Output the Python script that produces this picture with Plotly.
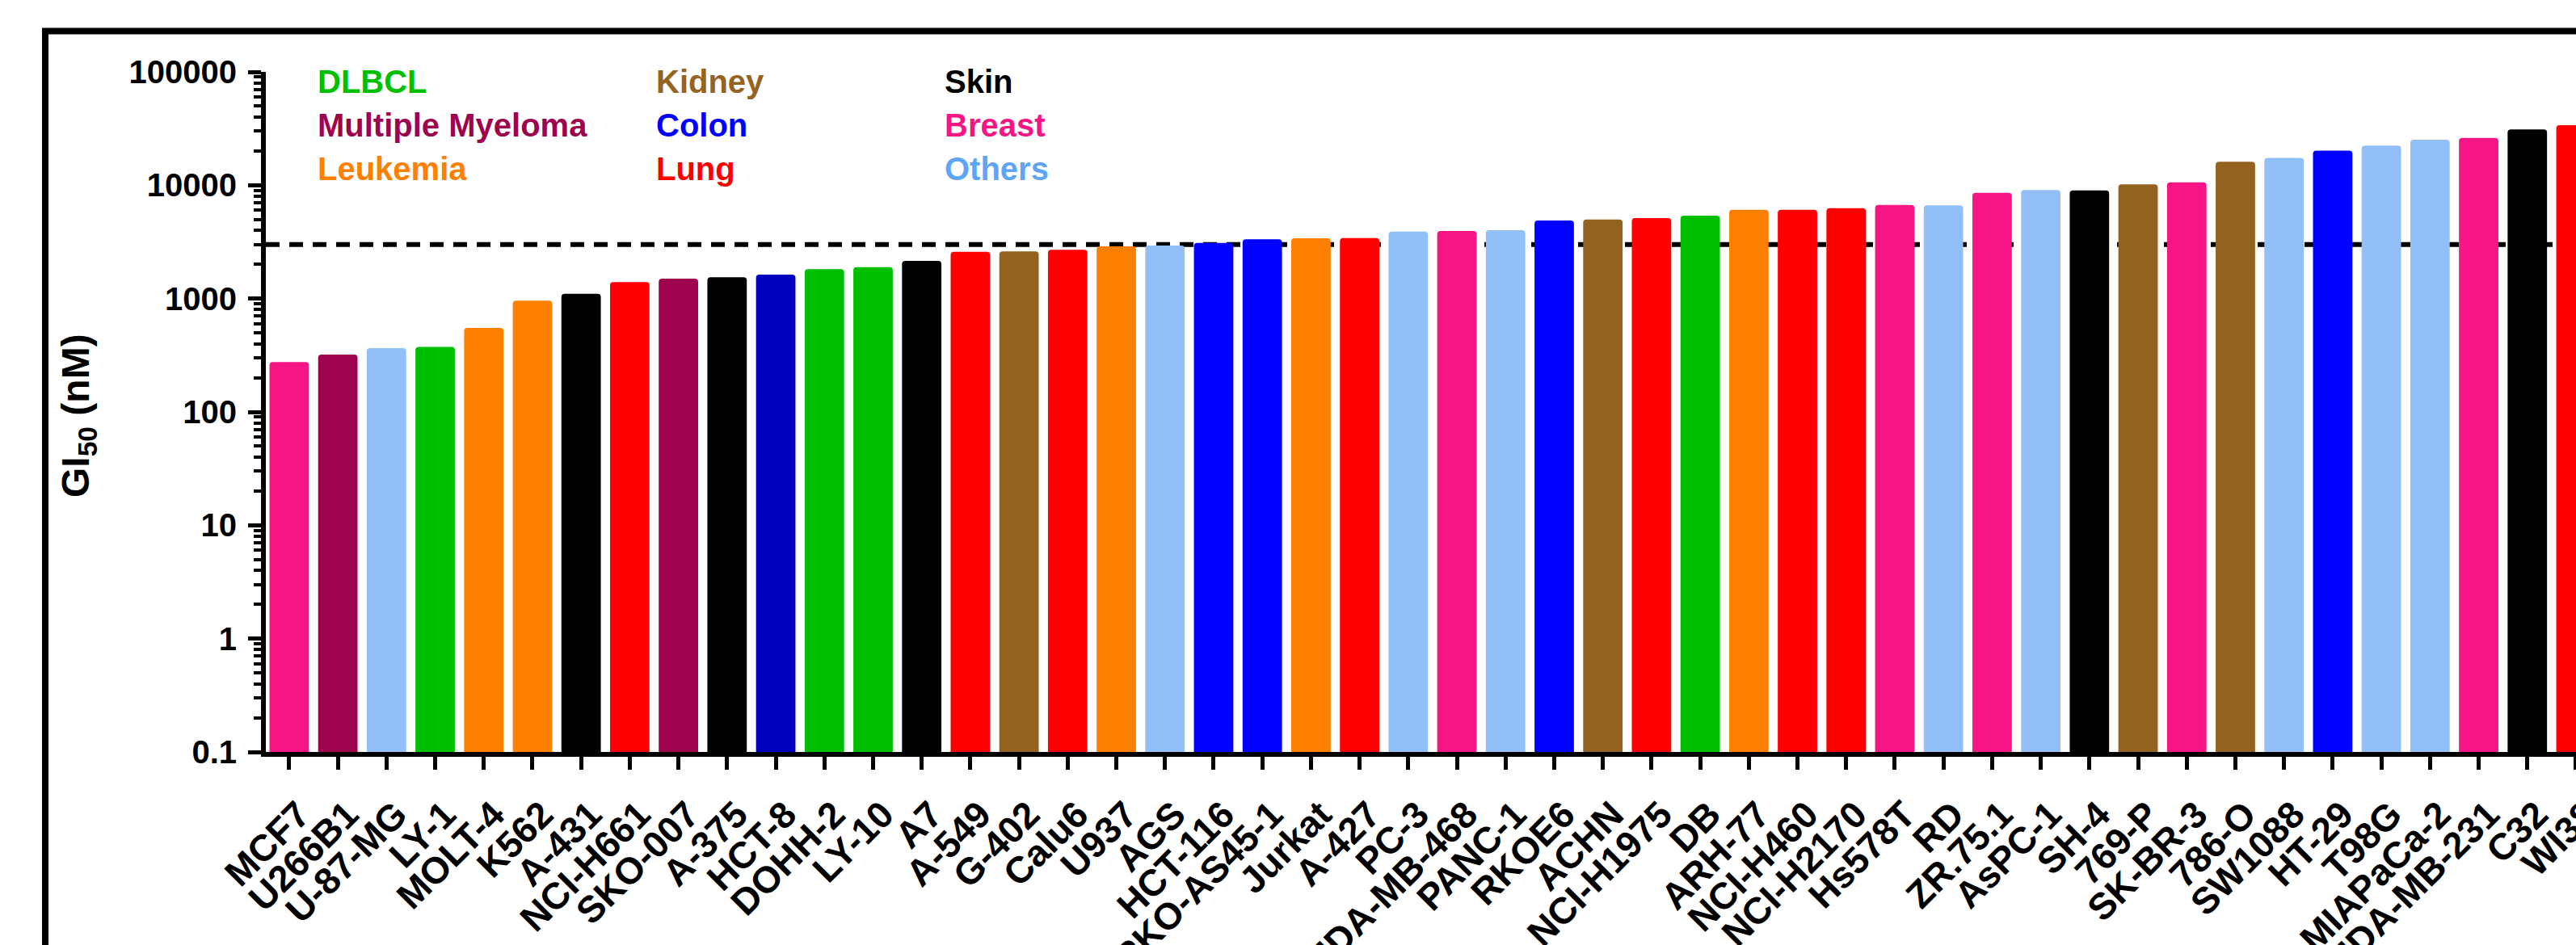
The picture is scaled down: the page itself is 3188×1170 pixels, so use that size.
import plotly.graph_objects as go

# ---- data -------------------------------------------------------------
cell_lines = [
    "MCF7", "U266B1", "U-87-MG", "LY-1", "MOLT-4", "K562", "A-431", "NCI-H661",
    "SKO-007", "A-375", "HCT-8", "DOHH-2", "LY-10", "A7", "A-549", "G-402",
    "Calu6", "U937", "AGS", "HCT-116", "RKO-AS45-1", "Jurkat", "A-427", "PC-3",
    "MDA-MB-468", "PANC-1", "RKOE6", "ACHN", "NCI-H1975", "DB", "ARH-77",
    "NCI-H460", "NCI-H2170", "Hs578T", "RD", "ZR.75.1", "AsPC-1", "SH-4",
    "769-P", "SK-BR-3", "786-O", "SW1088", "HT-29", "T98G", "MIAPaCa-2",
    "MDA-MB-231", "C32", "WI38",
]

gi50_nM = [
    275, 320, 365, 375, 550, 960, 1100, 1400,
    1500, 1540, 1630, 1820, 1890, 2150, 2590, 2610,
    2700, 2890, 2940, 3100, 3340, 3400, 3420, 3900,
    3940, 4010, 4880, 4990, 5130, 5380, 6070,
    6080, 6270, 6690, 6650, 8560, 9090, 9000,
    10200, 10600, 16100, 17400, 20200, 22400, 25200,
    26100, 31100, 33900,
]

tissue = [
    "Breast", "Multiple Myeloma", "Others", "DLBCL", "Leukemia", "Leukemia", "Skin", "Lung",
    "Multiple Myeloma", "Skin", "Colon", "DLBCL", "DLBCL", "Skin", "Lung", "Kidney",
    "Lung", "Leukemia", "Others", "Colon", "Colon", "Leukemia", "Lung", "Others",
    "Breast", "Others", "Colon", "Kidney", "Lung", "DLBCL", "Leukemia",
    "Lung", "Lung", "Breast", "Others", "Breast", "Others", "Skin",
    "Kidney", "Breast", "Kidney", "Others", "Colon", "Others", "Others",
    "Breast", "Skin", "Lung",
]

threshold_nM = 3000

y_tick_vals = [0.1, 1, 10, 100, 1000, 10000, 100000]
y_tick_text = ["0.1", "1", "10", "100", "1000", "10000", "100000"]

legend_columns = [
    ["DLBCL", "Multiple Myeloma", "Leukemia"],
    ["Kidney", "Colon", "Lung"],
    ["Skin", "Breast", "Others"],
]

# ---- style ------------------------------------------------------------
BAR_COLORS = {
    "DLBCL": "#00BF00",
    "Multiple Myeloma": "#9E044D",
    "Leukemia": "#FF8000",
    "Kidney": "#946220",
    "Colon": "#0000FF",
    "Lung": "#FF0000",
    "Skin": "#000000",
    "Breast": "#F71585",
    "Others": "#93BFF9",
}
LABEL_COLORS = dict(BAR_COLORS, Others="#5EA6F5", Kidney="#956322")
BAR_OVERRIDES = {"HCT-8": "#0000C0"}

FONT = "Arial, 'Liberation Sans', sans-serif"

W, H = 3188, 1170
L, R, T, B = 329, 0, 89, 239
plot_w = W - L - R
plot_h = H - T - B
# the last category sits on the right edge of the figure, half cut off
x_range = [-0.48, len(cell_lines) - 1 + 0.0005]


def px_x(p):
    return (p - L) / plot_w


def px_y(p):
    return (H - B - p) / plot_h


bar_colors = [BAR_OVERRIDES.get(c, BAR_COLORS[t]) for c, t in zip(cell_lines, tissue)]

fig = go.Figure(
    go.Bar(
        x=cell_lines,
        y=gi50_nM,
        marker=dict(color=bar_colors, line=dict(width=0), cornerradius=4),
        width=0.81,
        hoverinfo="x+y",
    )
)

shapes = [
    # threshold line behind the bars
    dict(
        type="line", xref="paper", yref="y",
        x0=0, x1=1, y0=threshold_nM, y1=threshold_nM,
        line=dict(color="black", width=6, dash="17px,12px"),
        layer="below",
    ),
    # outer frame
    dict(
        type="rect", xref="paper", yref="paper",
        x0=px_x(56), x1=px_x(3400), y0=px_y(1400), y1=px_y(38.5),
        line=dict(color="black", width=8),
        fillcolor="rgba(0,0,0,0)",
        layer="above",
    ),
]

annotations = []
# tissue colour key
col_x = [391, 810, 1167]
row_y = [101, 155, 209]
for ci, col in enumerate(legend_columns):
    for ri, name in enumerate(col):
        annotations.append(dict(
            xref="paper", yref="paper",
            x=px_x(col_x[ci]), y=px_y(row_y[ri]),
            xanchor="left", yanchor="middle",
            text=name, showarrow=False,
            font=dict(family=FONT, size=40, color=LABEL_COLORS[name], weight="bold"),
        ))

# y-axis title
annotations.append(dict(
    xref="paper", yref="paper",
    x=px_x(97), y=px_y(515),
    xanchor="center", yanchor="middle", textangle=-90,
    text="GI<sub>50</sub> (nM)", showarrow=False,
    font=dict(family=FONT, size=48, color="black", weight="bold"),
))

fig.update_layout(
    width=W, height=H,
    margin=dict(l=L, r=R, t=T, b=B, pad=0),
    paper_bgcolor="white",
    plot_bgcolor="rgba(0,0,0,0)",
    showlegend=False,
    shapes=shapes,
    annotations=annotations,
    font=dict(family=FONT, color="black"),
)

fig.update_xaxes(
    type="category",
    range=x_range,
    showline=True, linewidth=6, linecolor="black",
    ticks="outside", ticklen=16, tickwidth=5, tickcolor="black",
    tickangle=-45,
    tickfont=dict(family=FONT, size=46, color="black", weight="bold"),
    ticklabelstandoff=10,
    ticklabelshift=12,
    ticklabeloverflow="allow",
    showgrid=False, zeroline=False, automargin=False,
)

fig.update_yaxes(
    type="log",
    range=[-1, 5],
    tickmode="array", tickvals=y_tick_vals, ticktext=y_tick_text,
    showline=True, linewidth=6, linecolor="black",
    ticks="outside", ticklen=16, tickwidth=5, tickcolor="black",
    minor=dict(ticks="outside", ticklen=9, tickwidth=4, tickcolor="black",
               dtick="D1", showgrid=False),
    tickfont=dict(family=FONT, size=40, color="black", weight="bold"),
    ticklabelstandoff=6,
    showgrid=False, zeroline=False, automargin=False,
)

fig.write_html("out.html")
